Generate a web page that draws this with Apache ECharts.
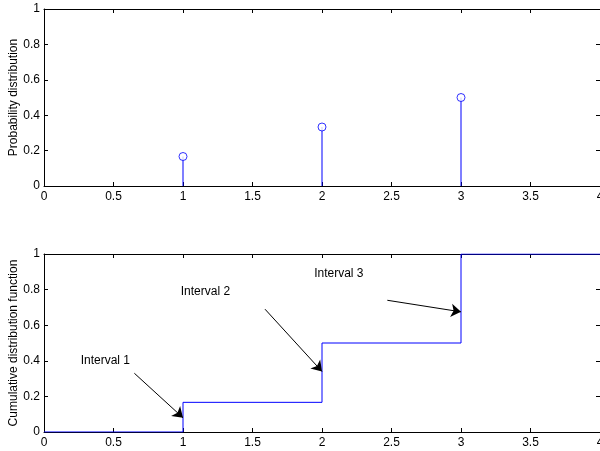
<!DOCTYPE html>
<html><head><meta charset="utf-8">
<script src="https://cdn.jsdelivr.net/npm/echarts@6/dist/echarts.min.js"></script>
<style>html,body{margin:0;padding:0;background:#fff}#c{width:600px;height:451px}</style>
</head><body><div id="c"></div>
<script>
// Data
const outcomes = [1, 2, 3];
const probabilities = [1/6, 1/3, 1/2];
const cdfX = [0, 1, 2, 3, 4];
const cdfY = [0, 1/6, 1/2, 1, 1];
const xTicks = [0, 0.5, 1, 1.5, 2, 2.5, 3, 3.5, 4];
const yTicks = [0, 0.2, 0.4, 0.6, 0.8, 1];
const annotationLabels = ['Interval 1', 'Interval 2', 'Interval 3'];
const annotationTextAt = [[0.26, 0.40], [0.98, 0.79], [1.94, 0.89]];
const arrowFrom = [[0.65, 0.33], [1.59, 0.69], [2.47, 0.74]];
const arrowTo = [[1, 0.08], [2, 0.34], [3, 0.675]];

const FONT = 'Liberation Sans, Arial, Helvetica, sans-serif';
const chart = echarts.init(document.getElementById('c'));

function xAx(gridIndex, pos, labels) {
  return {
    type: 'value', gridIndex, position: pos, min: 0, max: 4, interval: 0.5,
    axisLine: { show: true, onZero: false, lineStyle: { color: '#000', width: 1 } },
    axisTick: { show: true, inside: true, length: 4, lineStyle: { color: '#000' } },
    axisLabel: { show: labels, color: '#000', fontSize: 12, fontFamily: FONT, margin: 5,
      hideOverlap: false, formatter: v => String(v) },
    splitLine: { show: false }
  };
}
function yAx(gridIndex, pos, labels, name) {
  return {
    type: 'value', gridIndex, position: pos, min: 0, max: 1, interval: 0.2,
    name: name || '', nameLocation: 'middle', nameGap: 24, nameMoveOverlap: false,
    nameTextStyle: { color: '#000', fontSize: 12, fontFamily: FONT },
    axisLine: { show: true, onZero: false, lineStyle: { color: '#000', width: 1 } },
    axisTick: { show: true, inside: true, length: 4, lineStyle: { color: '#000' } },
    axisLabel: { show: labels, color: '#000', fontSize: 12, fontFamily: FONT, margin: 4,
      formatter: v => String(Math.round(v * 10) / 10) },
    splitLine: { show: false }
  };
}

const stemData = outcomes.map((x, i) => [x, probabilities[i]]);
const cdfData = cdfX.map((x, i) => [x, cdfY[i]]);

chart.setOption({
  animation: false,
  backgroundColor: '#fff',
  grid: [
    { left: 44, right: 0, top: 9, bottom: 265, outerBoundsMode: 'none', containLabel: false },
    { left: 44, right: 0, top: 254, bottom: 19, outerBoundsMode: 'none', containLabel: false }
  ],
  xAxis: [xAx(0, 'bottom', true), xAx(0, 'top', false), xAx(1, 'bottom', true), xAx(1, 'top', false)],
  yAxis: [yAx(0, 'left', true, 'Probability distribution'), yAx(0, 'right', false),
          yAx(1, 'left', true, 'Cumulative distribution function'), yAx(1, 'right', false)],
  series: [
    {
      type: 'bar', xAxisIndex: 0, yAxisIndex: 0, data: stemData, barWidth: 1,
      itemStyle: { color: '#0000ff' }, silent: true
    },
    {
      type: 'scatter', xAxisIndex: 0, yAxisIndex: 0, data: stemData,
      symbol: 'circle', symbolSize: 8,
      itemStyle: { color: '#ffffff', borderColor: '#0000ff', borderWidth: 1 }, silent: true
    },
    {
      type: 'line', xAxisIndex: 2, yAxisIndex: 2, data: cdfData, step: 'end',
      showSymbol: false, lineStyle: { color: '#0000ff', width: 1 }, silent: true,
      markLine: {
        silent: true, symbol: ['none', 'arrow'], symbolSize: 10,
        lineStyle: { color: '#000', width: 1, type: 'solid' },
        itemStyle: { color: '#000' },
        label: { show: false },
        data: arrowFrom.map((f, i) => [{ coord: f }, { coord: arrowTo[i] }])
      },
      markPoint: {
        silent: true, symbol: 'rect', symbolSize: 1,
        itemStyle: { color: 'rgba(0,0,0,0)' },
        label: { show: true, position: 'right', distance: 0, color: '#000',
          fontSize: 12, fontFamily: FONT, formatter: p => p.name },
        data: annotationLabels.map((t, i) => ({ name: t, coord: annotationTextAt[i] }))
      }
    }
  ]
});
</script></body></html>
